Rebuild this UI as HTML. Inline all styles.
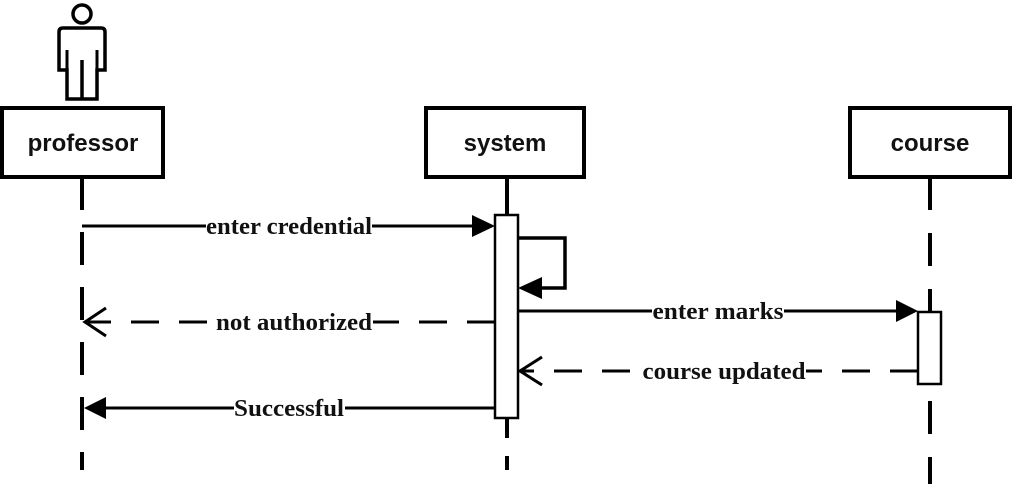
<!DOCTYPE html>
<html><head><style>
body{margin:0;background:#fff;width:1013px;height:484px;overflow:hidden}
svg{display:block}
.lbl{font-family:"Liberation Serif",serif;font-weight:bold;font-size:24px;fill:#111}
.nm{font-family:"Liberation Sans",sans-serif;font-weight:bold;font-size:24px;fill:#111}
</style></head><body>
<svg width="1013" height="484" viewBox="0 0 1013 484">
<g stroke="#000" stroke-width="4" fill="none">
<circle cx="82" cy="14" r="9" stroke-width="3.5"/>
<path d="M63 28 H101 Q105 28 105 32 V70 H97 V99 H67 V70 H59 V32 Q59 28 63 28 Z" stroke-width="3.5"/>
<line x1="82" y1="60" x2="82" y2="99" stroke-width="3.5"/>
<line x1="67" y1="50" x2="67" y2="70" stroke-width="3"/>
<line x1="97" y1="50" x2="97" y2="70" stroke-width="3"/>
<rect x="2" y="108" width="161" height="69"/>
<rect x="426" y="108" width="158" height="69"/>
<rect x="850" y="108" width="160" height="69"/>
<line x1="82" y1="177" x2="82" y2="470" stroke-dasharray="33,22"/>
<line x1="507" y1="177" x2="507" y2="215"/>
<line x1="507" y1="418" x2="507" y2="470" stroke-dasharray="20,18"/>
<line x1="930" y1="177" x2="930" y2="484" stroke-dasharray="33,23"/>
<line x1="82" y1="226" x2="478" y2="226" stroke-width="3"/>
<path d="M518 238 H565 V288 H540" stroke-width="3.5"/>
<line x1="518" y1="311" x2="900" y2="311" stroke-width="3"/>
<line x1="495" y1="322" x2="86" y2="322" stroke-width="3" stroke-dasharray="28,20"/>
<path d="M106 308 L85 322 L106 336" stroke-width="3"/>
<line x1="918" y1="371" x2="522" y2="371" stroke-width="3" stroke-dasharray="28,20"/>
<path d="M542 357 L520 371 L542 385" stroke-width="3"/>
<line x1="495" y1="408" x2="100" y2="408" stroke-width="3"/>
</g>
<g fill="#000">
<polygon points="472,215 495,226 472,237"/>
<polygon points="518,288 542,277 542,299"/>
<polygon points="896,300 918,311 896,322"/>
<polygon points="84,408 106,397 106,419"/>
</g>
<rect x="495" y="215" width="23" height="203" fill="#fff" stroke="#000" stroke-width="2.5"/>
<rect x="918" y="312" width="23" height="72" fill="#fff" stroke="#000" stroke-width="2.5"/>
<text class="nm" x="83" y="151" text-anchor="middle">professor</text>
<text class="nm" x="505" y="151" text-anchor="middle">system</text>
<text class="nm" x="930" y="151" text-anchor="middle">course</text>
<rect x="206" y="212" width="166" height="28" fill="#fff"/>
<text class="lbl" x="289" y="234" text-anchor="middle" textLength="166" lengthAdjust="spacingAndGlyphs">enter credential</text>
<rect x="216" y="308" width="157" height="28" fill="#fff"/>
<text class="lbl" x="294" y="330" text-anchor="middle" textLength="156" lengthAdjust="spacingAndGlyphs">not authorized</text>
<rect x="652" y="297" width="132" height="28" fill="#fff"/>
<text class="lbl" x="718" y="319" text-anchor="middle" textLength="131" lengthAdjust="spacingAndGlyphs">enter marks</text>
<rect x="642" y="357" width="164" height="28" fill="#fff"/>
<text class="lbl" x="724" y="379" text-anchor="middle" textLength="163" lengthAdjust="spacingAndGlyphs">course updated</text>
<rect x="234" y="394" width="111" height="28" fill="#fff"/>
<text class="lbl" x="289" y="416" text-anchor="middle" textLength="110" lengthAdjust="spacingAndGlyphs">Successful</text>
</svg>
</body></html>
